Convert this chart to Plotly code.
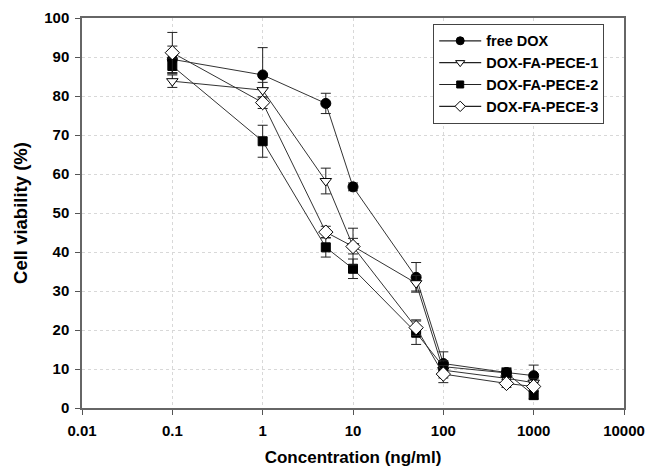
import plotly.graph_objects as go

conc = [0.1, 1, 5, 10, 50, 100, 500, 1000]

free_dox = [89.4, 85.4, 78.1, 56.7, 33.5, 11.4, 9.1, 8.3]
free_dox_err = [3.4, 7.0, 2.6, 1.0, 3.8, 3.0, 1.2, 2.7]

pece1 = [83.8, 81.5, 58.2, 41.5, 32.0, 9.7, 7.6, 6.5]
pece1_err = [1.6, 2.0, 3.3, 2.0, 2.0, 2.0, 1.0, 1.0]

pece2 = [87.7, 68.4, 41.2, 35.7, 19.3, 10.6, 9.0, 3.3]
pece2_err = [2.0, 4.1, 2.5, 2.5, 3.0, 1.5, 1.0, 1.0]

pece3 = [91.1, 78.3, 45.1, 41.4, 20.6, 8.7, 6.3, 5.5]
pece3_err = [5.2, 1.5, 1.5, 4.7, 2.0, 2.2, 1.0, 1.0]

series_names = ["free DOX", "DOX-FA-PECE-1", "DOX-FA-PECE-2", "DOX-FA-PECE-3"]
x_tickvals = [0.01, 0.1, 1, 10, 100, 1000, 10000]
x_ticktext = ["0.01", "0.1", "1", "10", "100", "1000", "10000"]

FONT = "Arial, Liberation Sans, sans-serif"

styles = [
    dict(symbol="circle", color="black"),
    dict(symbol="triangle-down", color="white"),
    dict(symbol="square", color="black"),
    dict(symbol="diamond", color="white"),
]
sizes = [10, 10, 9, 11]
legend_sizes = [8, 8, 7, 8]

fig = go.Figure()
for name, y, err, st, sz, lsz in zip(series_names,
                                     [free_dox, pece1, pece2, pece3],
                                     [free_dox_err, pece1_err, pece2_err, pece3_err],
                                     styles, sizes, legend_sizes):
    fig.add_trace(go.Scatter(
        x=conc, y=y, name=name, mode="lines+markers", showlegend=False,
        line=dict(color="#333333", width=1),
        marker=dict(size=sz, line=dict(color="black", width=1), **st),
        error_y=dict(type="data", array=err, visible=True,
                     color="#222222", thickness=1, width=5),
    ))
    # legend-only entry with smaller symbol
    fig.add_trace(go.Scatter(
        x=[None], y=[None], name=name, mode="lines+markers",
        line=dict(color="#222222", width=1.2),
        marker=dict(size=lsz, line=dict(color="black", width=1), **st),
    ))

fig.update_layout(
    width=647, height=472,
    margin=dict(l=82, r=23, t=18, b=64, autoexpand=False),
    paper_bgcolor="white", plot_bgcolor="white",
    font=dict(family=FONT, size=12, color="black"),
    legend=dict(
        x=0.648, y=0.985, xanchor="left", yanchor="top",
        bordercolor="#444444", borderwidth=1, bgcolor="white",
        font=dict(family=FONT, size=14.5, color="black", weight="bold"),
        tracegroupgap=0, itemwidth=42,
    ),
    showlegend=True,
)
fig.update_xaxes(
    type="log", range=[-2, 4], automargin=False,
    tickvals=x_tickvals, ticktext=x_ticktext,
    ticks="outside", ticklen=5, tickcolor="#555555", ticklabelstandoff=3,
    showline=True, linecolor="#666666", linewidth=1.5, mirror=True,
    showgrid=True, gridcolor="#d8d8d8", griddash="dot", gridwidth=1,
    zeroline=False,
    tickfont=dict(family=FONT, size=15, weight="bold"),
    title=dict(text="Concentration (ng/ml)", standoff=13,
               font=dict(family=FONT, size=17, weight="bold")),
)
fig.update_yaxes(
    range=[0, 100], dtick=10, automargin=False,
    ticks="outside", ticklen=5, tickcolor="#555555", ticklabelstandoff=3,
    showline=True, linecolor="#666666", linewidth=1.5, mirror=True,
    showgrid=True, gridcolor="#d8d8d8", griddash="dot", gridwidth=1,
    zeroline=False,
    tickfont=dict(family=FONT, size=15, weight="bold"),
    title=dict(text="Cell viability (%)", standoff=12,
               font=dict(family=FONT, size=18.5, weight="bold")),
)

fig.write_html("out.html")
